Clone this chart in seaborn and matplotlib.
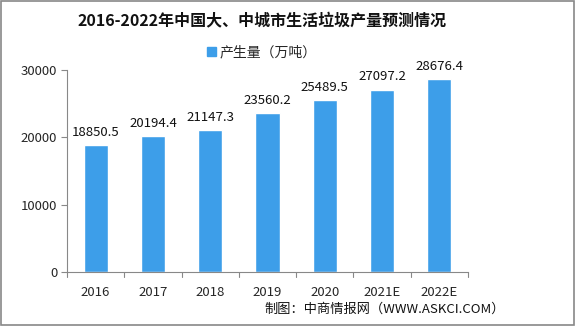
import matplotlib
matplotlib.use("Agg")
import matplotlib.pyplot as plt
import seaborn as sns
import pandas as pd
from matplotlib.patches import Rectangle

years = ["2016", "2017", "2018", "2019", "2020", "2021E", "2022E"]
values = [18850.5, 20194.4, 21147.3, 23560.2, 25489.5, 27097.2, 28676.4]
labels = ["18850.5", "20194.4", "21147.3", "23560.2", "25489.5", "27097.2", "28676.4"]

sns.set_style("white")
plt.rcParams['font.family'] = ['Noto Sans CJK SC', 'DejaVu Sans']

df = pd.DataFrame({"year": years, "value": values})

fig = plt.figure(figsize=(5.75, 3.26), dpi=100)
ax = fig.add_axes([67/575, (326-272)/326, (468-67)/575, (272-70)/326])

color = "#3d9ee9"
sns.barplot(data=df, x="year", y="value", color=color, width=0.42, ax=ax, saturation=1)

for i, (v, lab) in enumerate(zip(values, labels)):
    ax.text(i, v + 900, lab, ha="center", va="bottom", fontsize=9.5, color="#111111")

ax.set_ylim(0, 30000)
ax.set_xlim(-0.5, 6.5)
ax.set_yticks([0, 10000, 20000, 30000])
ax.set_xlabel("")
ax.set_ylabel("")
ax.tick_params(axis="y", labelsize=9.5, length=4, width=0.8, color="#888888", direction="out", left=True, pad=3)
ax.tick_params(axis="x", labelsize=9.5, length=0, pad=10)
for s in ["top", "right"]:
    ax.spines[s].set_visible(False)
for s in ["left", "bottom"]:
    ax.spines[s].set_color("#888888")
    ax.spines[s].set_linewidth(0.8)
for b in [i - 0.5 for i in range(8)]:
    ax.plot([b, b], [0, -0.025], transform=ax.get_xaxis_transform(), color="#888888", lw=0.8, clip_on=False)

fig.text(262/575, 0.935, "2016-2022年中国大、中城市生活垃圾产量预测情况", ha="center", va="center",
         fontsize=11.5, fontweight="bold", color="#111111")

handle = Rectangle((0, 0), 1, 1, color=color)
fig.legend([handle], ["产生量（万吨）"], loc="center", bbox_to_anchor=(262/575, 0.84), frameon=False,
           fontsize=10, handlelength=0.6, handleheight=0.6, handletextpad=0.3)

fig.text(505/575, 0.05, "制图：中商情报网（WWW.ASKCI.COM）", ha="right", va="center", fontsize=9.5, color="#111111")

fig.patches.append(Rectangle((0.001, 0.002), 0.997, 0.995, transform=fig.transFigure, fill=False,
                             edgecolor="#888888", lw=1.2))

fig.savefig("out.png", dpi=100)
